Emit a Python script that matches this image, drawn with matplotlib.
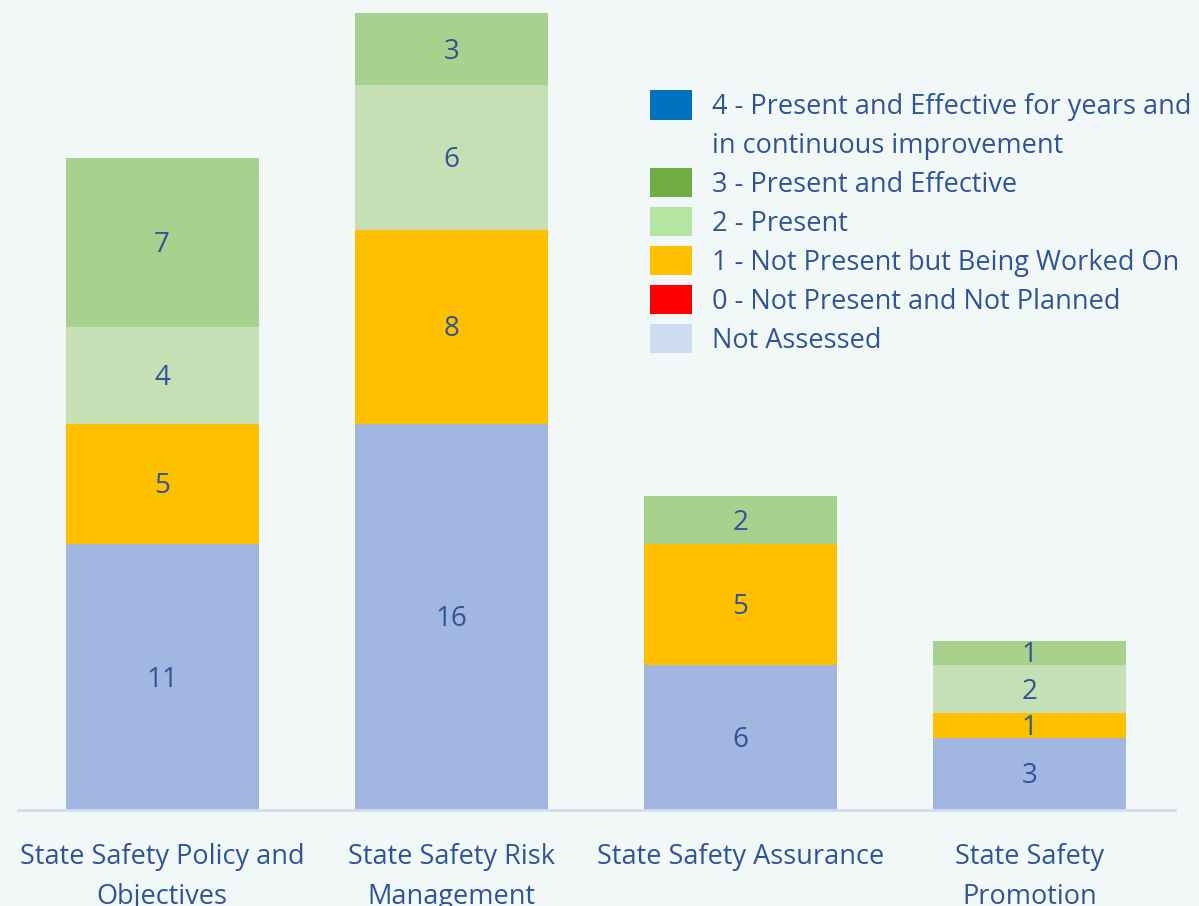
import numpy as np
import matplotlib.pyplot as plt
from matplotlib.patches import Patch

plt.rcParams['font.family'] = ['Open Sans', 'DejaVu Sans']

categories = ['State Safety Policy and\nObjectives', 'State Safety Risk\nManagement',
              'State Safety Assurance', 'State Safety\nPromotion']
not_assessed = [11, 16, 6, 3]
level_0 = [0, 0, 0, 0]
level_1 = [5, 8, 5, 1]
level_2 = [4, 6, 0, 2]
level_3 = [7, 3, 2, 1]
level_4 = [0, 0, 0, 0]

# legend rows (the long first label wraps onto a second row)
legend_labels = ['4 - Present and Effective for years and', 'in continuous improvement',
                 '3 - Present and Effective', '2 - Present',
                 '1 - Not Present but Being Worked On',
                 '0 - Not Present and Not Planned', 'Not Assessed']
legend_colors = ['#0070C0', 'none', '#70AD47', '#B4E5A2', '#FFC000', '#FF0000', '#CFDBEF']

bg = '#F2F8F8'
text_col = '#2F5597'

fig = plt.figure(figsize=(11.99, 9.06), dpi=100, facecolor=bg)
ax = fig.add_axes([17.5 / 1199, 96 / 906, 1157 / 1199, 810 / 906])
ax.set_facecolor(bg)

x = np.arange(len(categories))
width = 0.667
series = [
    (not_assessed, '#A1B7E1'),
    (level_0, '#FF0000'),
    (level_1, '#FFC000'),
    (level_2, '#C5E0B4'),
    (level_3, '#A9D18E'),
    (level_4, '#0070C0'),
]
bottom = np.zeros(len(categories))
for vals, col in series:
    vals = np.array(vals, dtype=float)
    ax.bar(x, vals, width, bottom=bottom, color=col, linewidth=0)
    for xi, b, v in zip(x, bottom, vals):
        if v > 0:
            ax.text(xi, b + v / 2 - 0.1, f'{int(v)}', ha='center', va='center',
                    fontsize=20, color=text_col)
    bottom += vals

ax.set_xlim(-0.5, len(categories) - 0.5)
ax.set_ylim(0, 33.54)
for s in ['top', 'right', 'left']:
    ax.spines[s].set_visible(False)
ax.spines['bottom'].set_color('#D0DCEF')
ax.spines['bottom'].set_linewidth(2)
ax.set_yticks([])
ax.set_xticks(x)
ax.set_xticklabels(categories, fontsize=19.5, color=text_col, linespacing=1.55)
ax.tick_params(axis='x', length=0, pad=24)

handles = [Patch(facecolor=c, edgecolor='none') for c in legend_colors]
leg = fig.legend(handles, legend_labels, loc='upper left',
                 bbox_to_anchor=(650 / 1199, 1 - 90 / 906),
                 frameon=False, fontsize=19.5, labelcolor=text_col, borderpad=0,
                 borderaxespad=0, handlelength=1.55, handleheight=1.3,
                 handletextpad=0.74, labelspacing=0.3)

fig.savefig('out.png', dpi=100, facecolor=bg)
